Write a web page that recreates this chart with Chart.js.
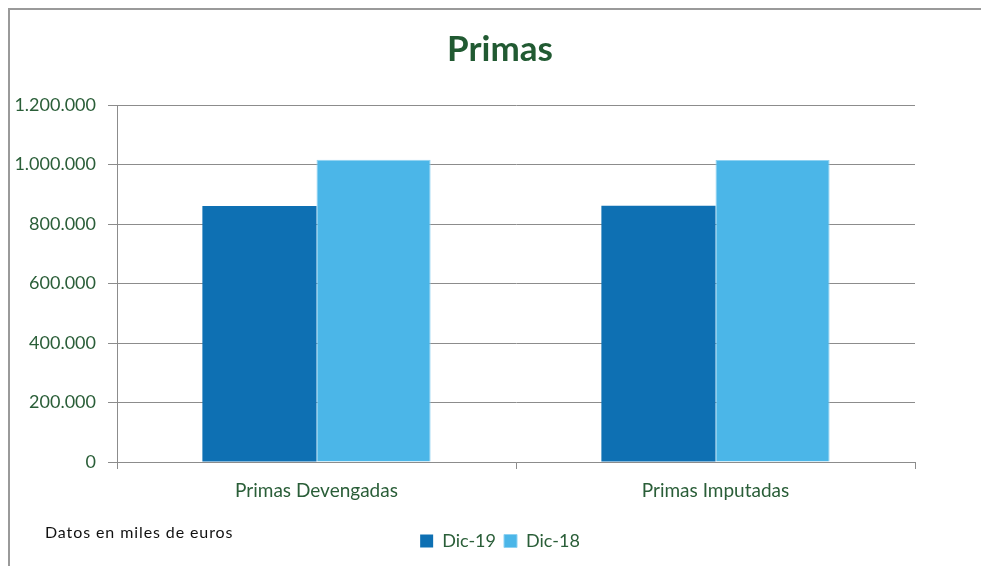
<!DOCTYPE html>
<html>
<head>
<meta charset="utf-8">
<script src="https://cdn.jsdelivr.net/npm/chart.js@4.4.1/dist/chart.umd.min.js"></script>
<style>
  html, body { margin: 0; padding: 0; background: #fff; overflow: hidden; }
  #wrap { position: relative; width: 981px; height: 566px; overflow: hidden; }
  #frame { position: absolute; left: 8px; top: 8px; width: 990px; height: 600px;
           border-left: 2px solid #9a9a9a; border-top: 2px solid #9a9a9a; }
  #note { position: absolute; left: 45px; top: 522px; font: 16px Lato, sans-serif;
          color: #111; letter-spacing: 0.9px; }
</style>
</head>
<body>
<div id="wrap">
  <!-- canvas is a bit wider than the window, like the cropped original -->
  <canvas id="primasChart" width="1000" height="566"></canvas>
  <div id="frame"></div>
  <div id="note">Datos en miles de euros</div>
</div>
<script>
// Chart data (miles de euros)
const categories = ['Primas Devengadas', 'Primas Imputadas'];
const dic19Values = [860500, 861000];
const dic18Values = [1016000, 1015500];
const seriesLabels = ['Dic-19', 'Dic-18'];
const yTicks = [0, 200000, 400000, 600000, 800000, 1000000, 1200000];

const green = '#2a5e38';
const gridGray = '#8c8c8c';

document.addEventListener('DOMContentLoaded', function() {
    const ctx = document.getElementById('primasChart').getContext('2d');

    new Chart(ctx, {
        type: 'bar',
        data: {
            labels: categories,
            datasets: [{
                label: seriesLabels[0],
                data: dic19Values,
                backgroundColor: '#0e70b3',
                borderWidth: 0
            }, {
                label: seriesLabels[1],
                data: dic18Values,
                backgroundColor: '#4bb6e8',
                borderColor: '#8fd2f2',
                borderWidth: 1
            }]
        },
        options: {
            responsive: false,
            animation: false,
            layout: { padding: { left: 0, right: 0, top: 0, bottom: 6 } },
            categoryPercentage: 0.572,
            barPercentage: 1,
            plugins: {
                title: {
                    display: true,
                    text: 'Primas',
                    color: '#215a32',
                    font: { family: 'Lato', size: 35, weight: 'bold' },
                    padding: { top: 29, bottom: 34 }
                },
                legend: {
                    position: 'bottom',
                    labels: {
                        color: green,
                        font: { family: 'Lato', size: 18 },
                        boxWidth: 13,
                        boxHeight: 13,
                        padding: 8
                    }
                },
                tooltip: { enabled: false }
            },
            scales: {
                x: {
                    afterFit: function(scale) {
                        scale.height = 62;
                    },
                    grid: {
                        offset: true,
                        drawOnChartArea: false,
                        color: gridGray,
                        tickLength: 7
                    },
                    border: { color: gridGray },
                    ticks: {
                        color: green,
                        font: { family: 'Lato', size: 19 },
                        padding: 10
                    }
                },
                y: {
                    min: 0,
                    max: 1200000,
                    afterBuildTicks: function(scale) {
                        scale.ticks = yTicks.map(v => ({ value: v }));
                    },
                    afterFit: function(scale) {
                        scale.width = 117;
                    },
                    grid: { color: gridGray, tickLength: 9 },
                    border: { color: gridGray },
                    ticks: {
                        color: green,
                        font: { family: 'Lato', size: 18 },
                        padding: 12,
                        callback: function(value) {
                            return value.toLocaleString('de-DE');
                        }
                    }
                },
                // empty right-hand axis, only reserves the margin right of the plot
                spacer: {
                    type: 'linear',
                    position: 'right',
                    afterFit: function(scale) {
                        scale.width = 85;
                    },
                    grid: { display: false },
                    border: { display: false },
                    ticks: { display: false }
                }
            }
        }
    });
});
</script>
</body>
</html>
